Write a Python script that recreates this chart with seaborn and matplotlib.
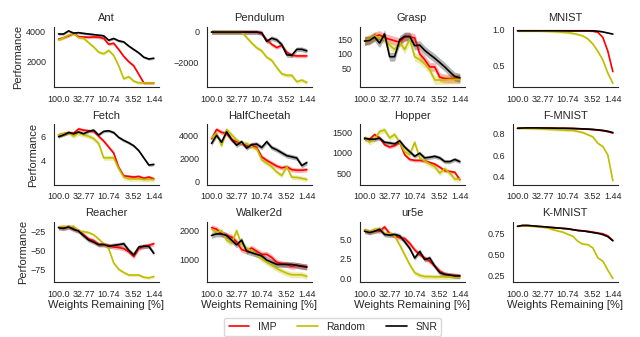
import numpy as np
import pandas as pd
import matplotlib
matplotlib.use("Agg")
import matplotlib.pyplot as plt
import seaborn as sns

# ---------------- data ----------------
tick_pos = [0, 5, 10, 15, 19]
tick_labels = ["100.0", "32.77", "10.74", "3.52", "1.44"]
methods = ["IMP", "Random", "SNR"]
colors = {"IMP": "#ff0000", "Random": "#bfbf00", "SNR": "#000000"}

titles = ["Ant", "Pendulum", "Grasp", "MNIST",
          "Fetch", "HalfCheetah", "Hopper", "F-MNIST",
          "Reacher", "Walker2d", "ur5e", "K-MNIST"]

ant_imp = [3490, 3590, 3720, 3880, 3660, 3640, 3620, 3640, 3620, 3550, 3150, 3220, 2800, 2340, 1980, 1700, 1130, 550, 550, 550]
ant_random = [3430, 3590, 3770, 3880, 3590, 3550, 3260, 2970, 2620, 2510, 2740, 2400, 1700, 830, 970, 670, 550, 550, 550, 550]
ant_snr = [3840, 3840, 4050, 3900, 3930, 3880, 3840, 3800, 3760, 3720, 3420, 3540, 3380, 3310, 3030, 2800, 2570, 2280, 2160, 2210]

pend_imp = [-60, -60, -60, -60, -60, -60, -60, -60, -60, -60, -160, -550, -840, -1040, -900, -1330, -1530, -1570, -1570, -1570]
pend_random = [-60, -60, -60, -60, -60, -60, -60, -400, -750, -1050, -1250, -1650, -1850, -2300, -2700, -2800, -2800, -3200, -3100, -3250]
pend_snr = [-60, -60, -60, -60, -60, -60, -60, -60, -60, -60, -100, -650, -450, -550, -850, -1500, -1530, -1150, -1150, -1250]

grasp_imp = [145, 150, 160, 165, 155, 150, 145, 140, 158, 158, 155, 100, 80, 55, 55, 20, 15, 15, 15, 14]
grasp_random = [145, 150, 162, 155, 150, 130, 115, 140, 115, 150, 90, 80, 65, 45, 10, 10, 10, 12, 12, 12]
grasp_snr = [144, 146, 158, 137, 168, 90, 90, 148, 160, 160, 128, 130, 112, 98, 85, 70, 55, 38, 22, 18]

mnist_imp = [0.98, 0.98, 0.98, 0.98, 0.98, 0.98, 0.98, 0.98, 0.98, 0.98, 0.98, 0.98, 0.98, 0.98, 0.98, 0.975, 0.96, 0.89, 0.70, 0.42]
mnist_random = [0.98, 0.98, 0.98, 0.98, 0.978, 0.975, 0.972, 0.97, 0.965, 0.96, 0.955, 0.945, 0.93, 0.91, 0.87, 0.80, 0.70, 0.58, 0.40, 0.26]
mnist_snr = [0.98, 0.98, 0.98, 0.98, 0.98, 0.98, 0.98, 0.98, 0.98, 0.98, 0.98, 0.98, 0.98, 0.98, 0.98, 0.98, 0.975, 0.965, 0.95, 0.935]

fetch_imp = [6.1, 6.2, 6.3, 6.25, 6.6, 6.5, 6.45, 6.4, 6.0, 5.6, 5.1, 4.6, 3.4, 2.7, 2.65, 2.6, 2.65, 2.5, 2.6, 2.45]
fetch_random = [6.1, 6.2, 6.3, 6.0, 6.25, 6.1, 6.0, 5.8, 5.4, 4.2, 4.2, 4.2, 3.3, 2.6, 2.45, 2.45, 2.45, 2.4, 2.4, 2.4]
fetch_snr = [5.95, 6.1, 6.3, 6.2, 6.35, 6.2, 6.4, 6.5, 6.1, 6.4, 6.45, 6.3, 5.9, 5.65, 5.45, 5.2, 4.8, 4.2, 3.6, 3.65]

cheetah_imp = [3700, 4500, 4250, 4150, 3600, 3450, 3300, 3100, 3150, 2950, 2150, 1850, 1600, 1350, 1200, 1300, 1050, 1000, 1000, 1050]
cheetah_random = [3800, 4200, 3100, 4500, 4050, 3600, 3300, 3300, 3000, 2850, 1900, 1600, 1300, 850, 550, 1300, 400, 380, 300, 200]
cheetah_snr = [3300, 4000, 3400, 4300, 3650, 3150, 3450, 2900, 3200, 3250, 2950, 3450, 2950, 2750, 2500, 2250, 2150, 2050, 1400, 1650]

hopper_imp = [1326, 1326, 1440, 1360, 1190, 1136, 1170, 1250, 947, 833, 810, 810, 795, 758, 720, 644, 560, 540, 520, 340]
hopper_random = [1360, 1250, 1326, 1515, 1550, 1360, 1440, 1250, 1023, 947, 1250, 870, 795, 720, 660, 500, 606, 500, 356, 356]
hopper_snr = [1350, 1326, 1326, 1350, 1250, 1235, 1212, 1288, 1136, 1023, 909, 985, 871, 886, 909, 871, 780, 780, 833, 780]

fmnist_imp = [0.85, 0.852, 0.853, 0.853, 0.853, 0.852, 0.852, 0.851, 0.85, 0.85, 0.849, 0.848, 0.846, 0.844, 0.842, 0.838, 0.833, 0.827, 0.818, 0.805]
fmnist_random = [0.85, 0.85, 0.848, 0.847, 0.845, 0.843, 0.84, 0.838, 0.835, 0.833, 0.83, 0.83, 0.82, 0.81, 0.79, 0.77, 0.71, 0.68, 0.60, 0.36]
fmnist_snr = [0.85, 0.852, 0.853, 0.853, 0.853, 0.852, 0.852, 0.851, 0.85, 0.85, 0.849, 0.848, 0.846, 0.844, 0.842, 0.839, 0.835, 0.83, 0.822, 0.81]

reacher_imp = [-18.6, -19.4, -18.2, -20.3, -23.7, -28.8, -34.4, -36.5, -41.7, -42.1, -43.0, -45.1, -45.9, -47.2, -51.5, -57.9, -47.2, -44.2, -42.9, -40.8]
reacher_random = [-18.6, -17.3, -18.2, -17.3, -23.7, -24.6, -25.9, -28.8, -34.4, -40.8, -47.2, -66.5, -75.0, -79.3, -82.7, -82.7, -82.7, -85.7, -86.5, -84.8]
reacher_snr = [-19.4, -20.3, -18.2, -21.6, -23.7, -30.1, -35.7, -38.7, -42.1, -41.7, -44.2, -42.9, -42.1, -40.8, -49.4, -55.8, -45.1, -44.2, -44.2, -53.6]

walker_imp = [2085, 2032, 1872, 1819, 1766, 1606, 1340, 1287, 1394, 1287, 1181, 1181, 1074, 915, 862, 840, 777, 809, 777, 755]
walker_random = [2032, 1926, 1979, 1660, 1553, 1979, 1500, 1394, 1287, 1181, 1021, 915, 809, 702, 617, 543, 489, 489, 489, 436]
walker_snr = [1819, 1872, 1872, 1819, 1660, 1500, 1660, 1287, 1234, 1181, 1128, 989, 915, 840, 840, 840, 840, 809, 777, 755]

ur5e_imp = [6.12, 5.91, 6.12, 5.99, 6.53, 5.70, 5.41, 5.17, 5.08, 4.46, 3.64, 3.02, 2.60, 2.19, 1.57, 0.95, 0.54, 0.41, 0.41, 0.29]
ur5e_random = [6.12, 5.91, 6.24, 6.32, 5.70, 5.70, 5.41, 4.26, 3.02, 1.78, 0.74, 0.41, 0.25, 0.25, 0.22, 0.22, 0.2, 0.2, 0.2, 0.2]
ur5e_snr = [5.99, 5.83, 5.99, 6.24, 5.58, 5.50, 5.58, 5.41, 4.67, 3.84, 2.60, 3.43, 2.40, 2.60, 1.57, 0.74, 0.54, 0.45, 0.33, 0.33]

kmnist_imp = [0.84, 0.85, 0.85, 0.845, 0.84, 0.835, 0.83, 0.825, 0.82, 0.815, 0.81, 0.80, 0.79, 0.785, 0.78, 0.77, 0.76, 0.75, 0.725, 0.67]
kmnist_random = [0.84, 0.85, 0.845, 0.84, 0.835, 0.83, 0.82, 0.80, 0.785, 0.77, 0.745, 0.72, 0.66, 0.625, 0.62, 0.58, 0.46, 0.42, 0.31, 0.21]
kmnist_snr = [0.84, 0.85, 0.85, 0.845, 0.84, 0.835, 0.83, 0.825, 0.82, 0.815, 0.81, 0.80, 0.79, 0.785, 0.775, 0.765, 0.755, 0.74, 0.715, 0.665]

# band half-widths (IMP, Random, SNR)
bands = [(100, 100, 80), (120, 120, 150), (15, 15, 15), (0.01, 0.015, 0.005),
         (0.15, 0.2, 0.12), (200, 200, 200), (40, 70, 50), (0.005, 0.01, 0.005),
         (3, 2, 3), (100, 100, 100), (0.3, 0.3, 0.3), (0.005, 0.01, 0.005)]

yticks = [[2000, 4000], [-2000, 0], [50, 100, 150], [0.5, 1.0],
          [4, 6], [0, 2000, 4000], [500, 1000, 1500], [0.4, 0.6, 0.8],
          [-75, -50, -25], [1000, 2000], [0.0, 2.5, 5.0], [0.25, 0.50, 0.75]]

series = [(ant_imp, ant_random, ant_snr), (pend_imp, pend_random, pend_snr),
          (grasp_imp, grasp_random, grasp_snr), (mnist_imp, mnist_random, mnist_snr),
          (fetch_imp, fetch_random, fetch_snr), (cheetah_imp, cheetah_random, cheetah_snr),
          (hopper_imp, hopper_random, hopper_snr), (fmnist_imp, fmnist_random, fmnist_snr),
          (reacher_imp, reacher_random, reacher_snr), (walker_imp, walker_random, walker_snr),
          (ur5e_imp, ur5e_random, ur5e_snr), (kmnist_imp, kmnist_random, kmnist_snr)]

# ---------------- plot ----------------
sns.set_style("white")
plt.rcParams['font.family'] = ['Liberation Sans', 'DejaVu Sans']

fig, axes = plt.subplots(3, 4, figsize=(6.4, 3.37), dpi=100)
fig.subplots_adjust(left=0.084, right=0.965, top=0.92, bottom=0.163,
                    wspace=0.46, hspace=0.62)

for i, ax in enumerate(axes.flat):
    rows = []
    for m, vals, bw in zip(methods, series[i], bands[i]):
        for k, v in enumerate(vals):
            for s in (-1, 0, 1):
                rows.append({"x": k, "value": v + s * bw, "method": m})
    df = pd.DataFrame(rows)
    sns.lineplot(data=df, x="x", y="value", hue="method", hue_order=methods,
                 palette=colors, errorbar=("pi", 100), err_kws={"alpha": 0.3, "linewidth": 0},
                 linewidth=1.2, legend=False, ax=ax)
    ax.set_title(titles[i], fontsize=8, pad=4)
    ax.set_xticks(tick_pos)
    ax.set_xticklabels(tick_labels, fontsize=6.5)
    ax.set_yticks(yticks[i])
    ax.tick_params(axis="y", labelsize=6.5, pad=2)
    ax.tick_params(axis="x", pad=2)
    ax.set_ylabel("Performance" if i % 4 == 0 else "", fontsize=8, labelpad=2)
    ax.set_xlabel("Weights Remaining [%]" if i >= 8 else "", fontsize=8, labelpad=1)
    sns.despine(ax=ax)

handles = [plt.Line2D([], [], color=colors[m], lw=1.2) for m in methods]
fig.legend(handles, methods, loc="lower center", ncol=3, fontsize=7.5,
           bbox_to_anchor=(0.52, -0.012), frameon=True, edgecolor="#d0d0d0")

fig.savefig("out.png", dpi=100)
